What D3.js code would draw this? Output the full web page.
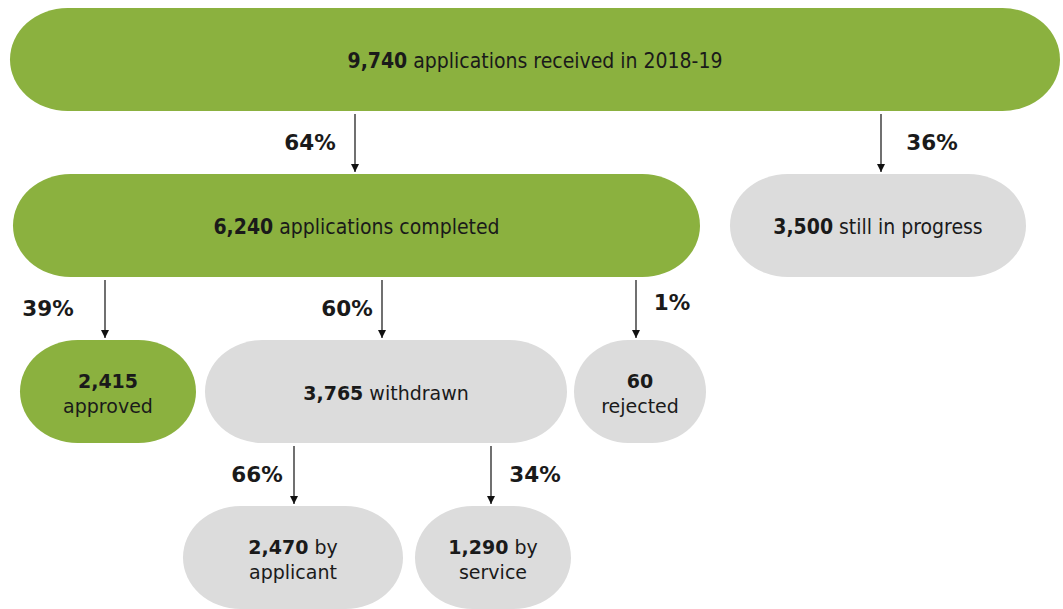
<!DOCTYPE html>
<meta charset="utf-8">
<style>
body { margin: 0; background: #fff; font-family: 'DejaVu Sans', Verdana, sans-serif; }
.num { font-weight: bold; }
.pct { font-weight: bold; font-size: 21.5px; fill: #1a1a1a; }
.cond { font-stretch: condensed; }
</style>
<body>
<script src="https://d3js.org/d3.v7.min.js"></script>
<script>
var width = 1063,
    height = 609;

// nodes of the flow
var nodeIds    = ["received", "completed", "progress", "approved", "withdrawn", "rejected", "applicant", "service"];
var nodeValues = [9740, 6240, 3500, 2415, 3765, 60, 2470, 1290];
var nodeLine1  = ["applications received in 2018-19", "applications completed", "still in progress", "", "withdrawn", "", "by", "by"];
var nodeLine2  = ["", "", "", "approved", "", "rejected", "applicant", "service"];
var nodeKind   = ["main", "main", "other", "main", "other", "other", "other", "other"];
var nodeLevel  = [0, 1, 1, 2, 2, 2, 3, 3];

// arrows between them
var linkSource = ["received", "received", "completed", "completed", "completed", "withdrawn", "withdrawn"];
var linkTarget = ["completed", "progress", "approved", "withdrawn", "rejected", "applicant", "service"];
var linkPct    = [64, 36, 39, 60, 1, 66, 34];

// horizontal layout (pixels)
var nodeX = {
  received:  [10, 1060],
  completed: [13, 700],
  progress:  [730, 1026],
  approved:  [20, 196],
  withdrawn: [205, 567],
  rejected:  [574, 706],
  applicant: [183, 403],
  service:   [415, 571]
};
// arrow x, label x, label shift
var arrowX = {
  completed: [355, 310, 0], progress: [881, 932, 0], approved: [105, 48, 0],
  withdrawn: [382, 347, 0], rejected: [636, 672, -6], applicant: [294, 257, 0], service: [491, 535, 0]
};

var boxH = 103;
var y = d3.scaleLinear().domain([0, 3]).range([8, 506]);
var color = d3.scaleOrdinal().domain(["main", "other"]).range(["#8bb13f", "#dcdcdc"]);
var fmt = d3.format(",");

var nodes = nodeIds.map((id, i) => ({
  id: id, value: nodeValues[i], l1: nodeLine1[i], l2: nodeLine2[i],
  kind: nodeKind[i], level: nodeLevel[i]
}));
var byId = {};
nodes.forEach(d => byId[d.id] = d);

var svg = d3.select("body").append("svg")
    .attr("width", width)
    .attr("height", height);

svg.append("defs").append("marker")
    .attr("id", "head")
    .attr("viewBox", "0 0 10 10")
    .attr("refX", 10).attr("refY", 5)
    .attr("markerWidth", 8).attr("markerHeight", 9)
    .attr("markerUnits", "userSpaceOnUse")
    .attr("orient", "auto")
  .append("path")
    .attr("d", "M0,0L10,5L0,10Z")
    .attr("fill", "#111");

var g = svg.selectAll("g.node")
  .data(nodes)
  .join("g")
    .attr("class", "node");

g.append("rect")
    .attr("x", d => nodeX[d.id][0])
    .attr("y", d => y(d.level))
    .attr("width", d => nodeX[d.id][1] - nodeX[d.id][0])
    .attr("height", boxH)
    .attr("rx", d => Math.min(boxH / 2 + 6, (nodeX[d.id][1] - nodeX[d.id][0]) / 2 - 12))
    .attr("ry", boxH / 2)
    .attr("fill", d => color(d.kind));

// text
g.each(function(d) {
  var cx = (nodeX[d.id][0] + nodeX[d.id][1]) / 2;
  var cy = y(d.level) + boxH / 2;
  var sel = d3.select(this);
  var cond = d.level < 2;
  if (!d.l2) {
    var t = sel.append("text")
        .attr("x", cx).attr("y", cy + 8)
        .attr("text-anchor", "middle")
        .attr("font-size", cond ? 21 : 19)
        .attr("fill", "#1a1a1a")
        .classed("cond", cond);
    t.append("tspan").attr("class", "num").text(fmt(d.value));
    t.append("tspan").text(" " + d.l1);
  } else {
    var t1 = sel.append("text")
        .attr("x", cx).attr("y", cy - 4)
        .attr("text-anchor", "middle")
        .attr("font-size", 19)
        .attr("fill", "#1a1a1a");
    t1.append("tspan").attr("class", "num").text(fmt(d.value));
    if (d.l1) t1.append("tspan").text(" " + d.l1);
    sel.append("text")
        .attr("x", cx).attr("y", cy + 21)
        .attr("text-anchor", "middle")
        .attr("font-size", 19)
        .attr("fill", "#1a1a1a")
        .text(d.l2);
  }
});

// arrows
var links = linkSource.map((s, i) => ({ s: byId[s], t: byId[linkTarget[i]], pct: linkPct[i] }));

svg.selectAll("line.arrow")
  .data(links)
  .join("line")
    .attr("class", "arrow")
    .attr("x1", d => arrowX[d.t.id][0])
    .attr("x2", d => arrowX[d.t.id][0])
    .attr("y1", d => y(d.s.level) + boxH + 3)
    .attr("y2", d => y(d.t.level) - 2)
    .attr("stroke", "#111")
    .attr("stroke-width", 1.2)
    .attr("marker-end", "url(#head)");

svg.selectAll("text.pct")
  .data(links)
  .join("text")
    .attr("class", "pct")
    .attr("x", d => arrowX[d.t.id][1])
    .attr("y", d => y(d.s.level) + boxH + 39 + arrowX[d.t.id][2])
    .attr("text-anchor", "middle")
    .text(d => d.pct + "%");
</script>
